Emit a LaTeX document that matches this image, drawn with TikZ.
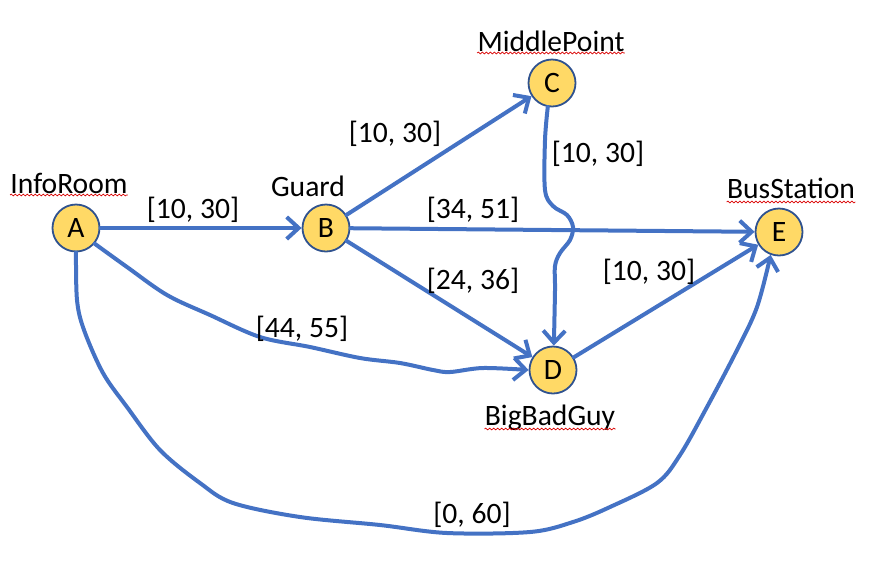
\documentclass[tikz,border=0pt]{standalone}
\usepackage{fontspec}
\setmainfont{Carlito}
\usetikzlibrary{arrows.meta,decorations.pathmorphing}
\definecolor{edgeblue}{HTML}{4472C4}
\definecolor{nodefill}{HTML}{FFD966}
\definecolor{nodeline}{HTML}{2F528F}

\begin{document}
\begin{tikzpicture}[
  x=0.5pt,y=-0.5pt,
  station/.style={circle,draw=nodeline,fill=nodefill,line width=0.9pt,minimum size=23.5pt,inner sep=0pt,font=\fontsize{14.8}{17}\selectfont},
  edge/.style={-{Straight Barb[length=6pt,width=11pt]},line width=2pt,edgeblue,line cap=round},
  place/.style={anchor=base,inner sep=0pt,font=\fontsize{14.8}{17}\selectfont},
  cost/.style={anchor=base,inner sep=0pt,font=\fontsize{14.8}{17}\selectfont},
  squiggle/.style={red!85!black,line width=0.35pt,decorate,decoration={snake,amplitude=0.45pt,segment length=2pt}}
]
  \useasboundingbox (0,0) rectangle (870,563);

  \node[station] (A) at (76,228) {A};
  \node[station] (B) at (326,228) {B};
  \node[station] (C) at (552,83) {C};
  \node[station] (D) at (553,370) {D};
  \node[station] (E) at (779,232) {E};

  \node[place] (nameA) at (69,193) {InfoRoom};
  \node[place] (nameB) at (308,196) {Guard};
  \node[place] (nameC) at (551,51) {MiddlePoint};
  \node[place] (nameD) at (550,425) {BigBadGuy};
  \node[place] (nameE) at (791,198) {BusStation};
  \draw[squiggle] ([yshift=-1pt]nameA.base west)--([yshift=-1pt]nameA.base east);
  \draw[squiggle] ([yshift=-1pt]nameC.base west)--([yshift=-1pt]nameC.base east);
  \draw[squiggle] ([yshift=-2pt]nameD.base west)--([yshift=-2pt]nameD.base east);
  \draw[squiggle] ([yshift=-2pt]nameE.base west)--([yshift=-2pt]nameE.base east);

  \draw[edge] (A)--(B);
  \draw[edge] (B)--(C);
  \draw[edge] (B)--(E);
  \draw[edge] (B)--(D);
  \draw[edge] (D)--(E);
  \draw[edge] plot[smooth,tension=0.55] coordinates {(C.260) (545,140) (545,190) (553,206)
    (567,215) (573,227) (570,240) (560,253) (555,266) (555,290) (D.88)};
  \draw[edge] plot[smooth,tension=0.55] coordinates {(A.-40) (127,267) (167,295) (210,315)
    (260,337) (310,347) (360,358) (400,363) (433,370) (450,372) (483,368) (D.west)};
  \draw[edge] plot[smooth,tension=0.55] coordinates {(A.south) (77,300) (84,330) (103,373)
    (127,407) (160,450) (200,483) (233,503) (300,517) (380,525) (447,533) (530,532)
    (573,522) (610,507) (657,483) (680,455) (707,407) (737,350) (757,307) (E.-110)};

  \node[cost] (cAB) at (193,218) {[10, 30]};
  \node[cost] (cBC) at (395,142) {[10, 30]};
  \node[cost] (cCD) at (598,162) {[10, 30]};
  \node[cost] (cBE) at (473,218) {[34, 51]};
  \node[cost] (cBD) at (473,289) {[24, 36]};
  \node[cost] (cDE) at (649,280) {[10, 30]};
  \node[cost] (cAD) at (302,337) {[44, 55]};
  \node[cost] (cAE) at (472,523) {[0, 60]};
\end{tikzpicture}
\end{document}
